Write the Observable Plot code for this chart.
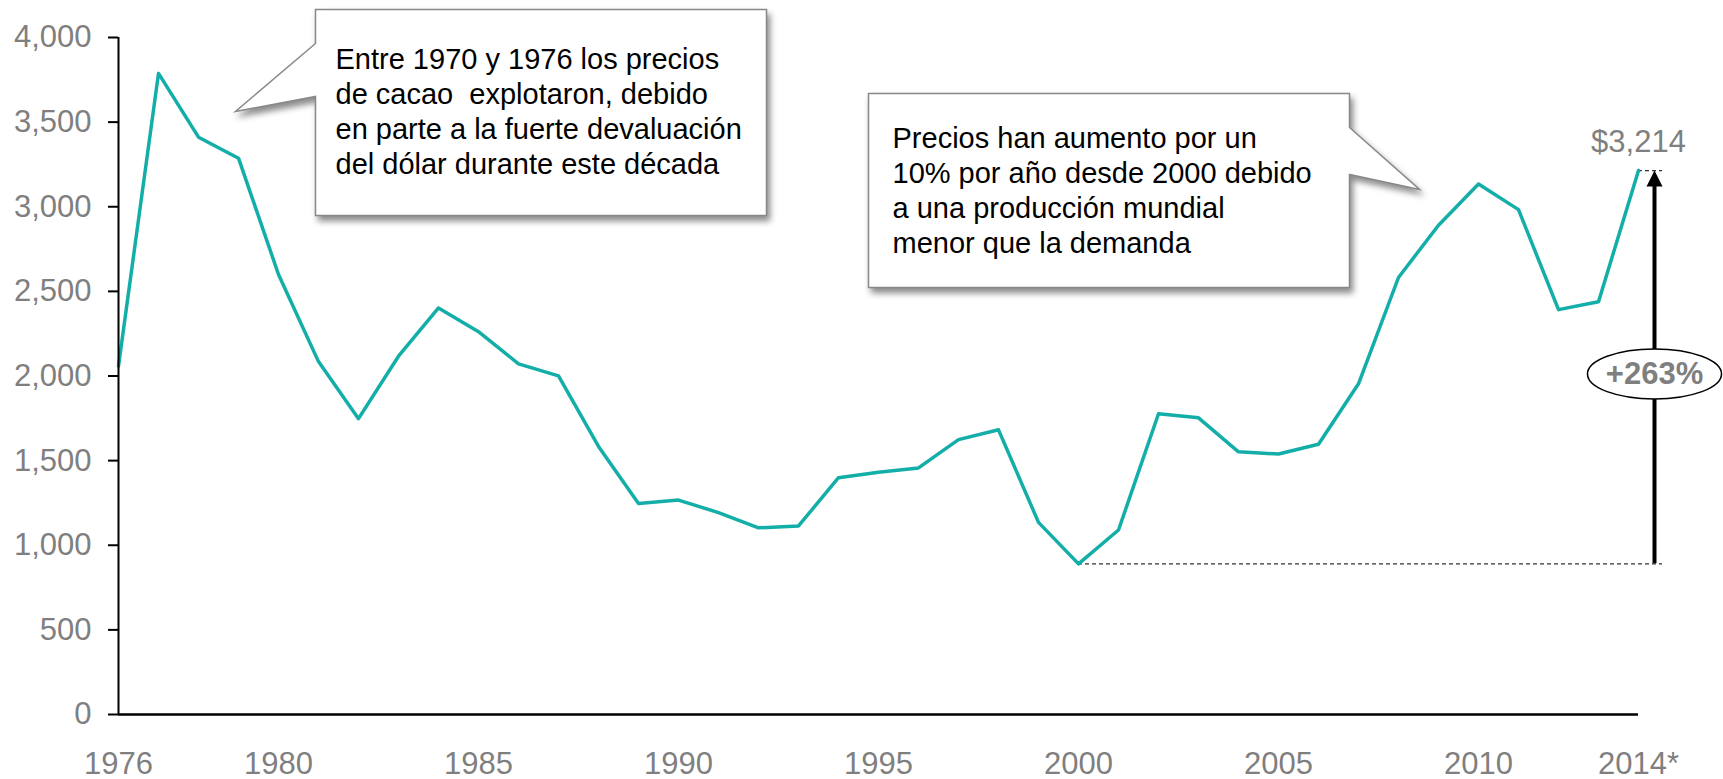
<!DOCTYPE html>
<html>
<head>
<meta charset="utf-8">
<script src="https://cdn.jsdelivr.net/npm/d3@7"></script>
<script src="https://cdn.jsdelivr.net/npm/@observablehq/plot@0.6"></script>
<style>
  html, body { margin: 0; padding: 0; background: #fff; overflow: hidden; }
  svg text { white-space: pre; }
</style>
</head>
<body>
<div id="chart"></div>
<script>
// ---- data ----
const years = [1976, 1977, 1978, 1979, 1980, 1981, 1982, 1983, 1984, 1985, 1986, 1987, 1988, 1989, 1990,
  1991, 1992, 1993, 1994, 1995, 1996, 1997, 1998, 1999, 2000, 2001, 2002, 2003, 2004, 2005, 2006, 2007,
  2008, 2009, 2010, 2011, 2012, 2013, 2014];
const prices = [2059, 3788, 3411, 3287, 2600, 2085, 1748, 2117, 2402, 2262, 2072, 2001, 1584, 1246, 1267,
  1193, 1103, 1114, 1399, 1431, 1457, 1624, 1682, 1135, 890, 1090, 1777, 1753, 1552, 1539, 1597, 1954,
  2582, 2891, 3134, 2983, 2392, 2439, 3214];
const xTicks = [1976, 1980, 1985, 1990, 1995, 2000, 2005, 2010, 2014];
const xTickLabels = ["1976", "1980", "1985", "1990", "1995", "2000", "2005", "2010", "2014*"];
const yTicks = [0, 500, 1000, 1500, 2000, 2500, 3000, 3500, 4000];
const baseYear = 2000;
const baseValue = 890;
const lastYear = 2014;
const lastValue = 3214;
const lastLabel = ["$3,214"];
const changeLabel = ["+263%"];
const note1 = ["Entre 1970 y 1976 los precios", "de cacao  explotaron, debido", "en parte a la fuerte devaluación", "del dólar durante este década"];
const note2 = ["Precios han aumento por un", "10% por año desde 2000 debido", "a una producción mundial", "menor que la demanda"];

// ---- chart ----
const data = years.map((year, i) => ({year, price: prices[i]}));
const font = '"Liberation Sans", Arial, Helvetica, sans-serif';
const gray = "#7f7f7f";
const W = 1723, H = 779, mL = 118, mR = 85, mT = 37, mB = 65;
const plotH = H - mT - mB;
const perPx = 4000 / plotH;          // value units per pixel
const pxPerYear = (W - mL - mR) / (lastYear - 1976);
const arrowYear = lastYear + 16 / pxPerYear;
const dashEnd = lastYear + 24 / pxPerYear;
const tickFont = 31;

// callout shapes drawn relative to the frame's top-left corner
const callout1 = {draw(c) {
  c.moveTo(197, -28); c.lineTo(648, -28); c.lineTo(648, 178); c.lineTo(197, 178);
  c.lineTo(197, 59); c.lineTo(117, 74); c.lineTo(197, 6); c.closePath();
}};
const callout2 = {draw(c) {
  c.moveTo(750, 56); c.lineTo(1231, 56); c.lineTo(1231, 90); c.lineTo(1301, 152);
  c.lineTo(1231, 137); c.lineTo(1231, 250); c.lineTo(750, 250); c.closePath();
}};
const arrowHead = {draw(c) { c.moveTo(0, 0); c.lineTo(-8, 16); c.lineTo(8, 16); c.closePath(); }};
const ellipse = {draw(c) {
  const rx = 67, ry = 25, k = 0.5523;
  c.moveTo(-rx, 0);
  c.bezierCurveTo(-rx, -ry * k, -rx * k, -ry, 0, -ry);
  c.bezierCurveTo(rx * k, -ry, rx, -ry * k, rx, 0);
  c.bezierCurveTo(rx, ry * k, rx * k, ry, 0, ry);
  c.bezierCurveTo(-rx * k, ry, -rx, ry * k, -rx, 0);
  c.closePath();
}};

const shadow = "drop-shadow(3px 5px 3px rgba(0,0,0,0.45))";

const chart = Plot.plot({
  width: W, height: H,
  marginLeft: mL, marginRight: mR, marginTop: mT, marginBottom: mB,
  style: {fontFamily: font, fontSize: "29px", background: "#fff", overflow: "visible"},
  x: {domain: [1976, 2014]},
  y: {domain: [0, 4000]},
  marks: [
    // callouts
    Plot.dot([0], {frameAnchor: "top-left", symbol: callout1, fill: "#fff", stroke: "#888", strokeWidth: 1.5, imageFilter: shadow}),
    Plot.dot([0], {frameAnchor: "top-left", symbol: callout2, fill: "#fff", stroke: "#888", strokeWidth: 1.5, imageFilter: shadow}),
    Plot.text([note1.join("\n")], {text: d => d, frameAnchor: "top-left", dx: 335 - mL, dy: 173 - mT,
      lineAnchor: "bottom", textAnchor: "start", lineHeight: 35 / 29, fontSize: 29, fill: "#000"}),
    Plot.text([note2.join("\n")], {text: d => d, frameAnchor: "top-left", dx: 892 - mL, dy: 252 - mT,
      lineAnchor: "bottom", textAnchor: "start", lineHeight: 35 / 29, fontSize: 29, fill: "#000"}),
    // reference dashed lines
    Plot.ruleY([baseValue], {x1: baseYear, x2: dashEnd, stroke: "#333", strokeWidth: 1.2, strokeDasharray: "4,3"}),
    Plot.ruleY([lastValue], {x1: lastYear, x2: dashEnd, stroke: "#333", strokeWidth: 1.2, strokeDasharray: "4,3"}),
    // arrow
    Plot.ruleX([arrowYear], {y1: baseValue, y2: lastValue - 12 * perPx, stroke: "#000", strokeWidth: 4}),
    Plot.dot([{x: arrowYear, y: lastValue}], {x: "x", y: "y", symbol: arrowHead, fill: "#000"}),
    Plot.dot([{x: arrowYear, y: 2012}], {x: "x", y: "y", symbol: ellipse, fill: "#fff", stroke: "#000", strokeWidth: 1.5}),
    Plot.text(changeLabel, {text: d => d, x: () => arrowYear, y: () => 2012, lineAnchor: "middle",
      fontWeight: "bold", fontSize: tickFont, fill: gray}),
    // price line
    Plot.line(data, {x: "year", y: "price", stroke: "#14aea8", strokeWidth: 3.5}),
    // axes
    Plot.axisY({ticks: yTicks, tickSize: 10, tickPadding: 17, tickFormat: d3.format(","), stroke: "#000",
      strokeWidth: 2, fill: gray, label: null, fontSize: tickFont}),
    Plot.axisX({ticks: xTicks, tickSize: 0, tickPadding: 37, tickFormat: d => xTickLabels[xTicks.indexOf(d)],
      fill: gray, label: null, fontSize: tickFont}),
    Plot.ruleX([1976], {stroke: "#000", strokeWidth: 2}),
    Plot.ruleY([0], {stroke: "#000", strokeWidth: 2.5}),
    Plot.text(lastLabel, {text: d => d, x: () => lastYear, y: () => lastValue, dy: -19, lineAnchor: "bottom",
      fill: gray, fontSize: tickFont})
  ]
});
document.getElementById("chart").appendChild(chart);
</script>
</body>
</html>
